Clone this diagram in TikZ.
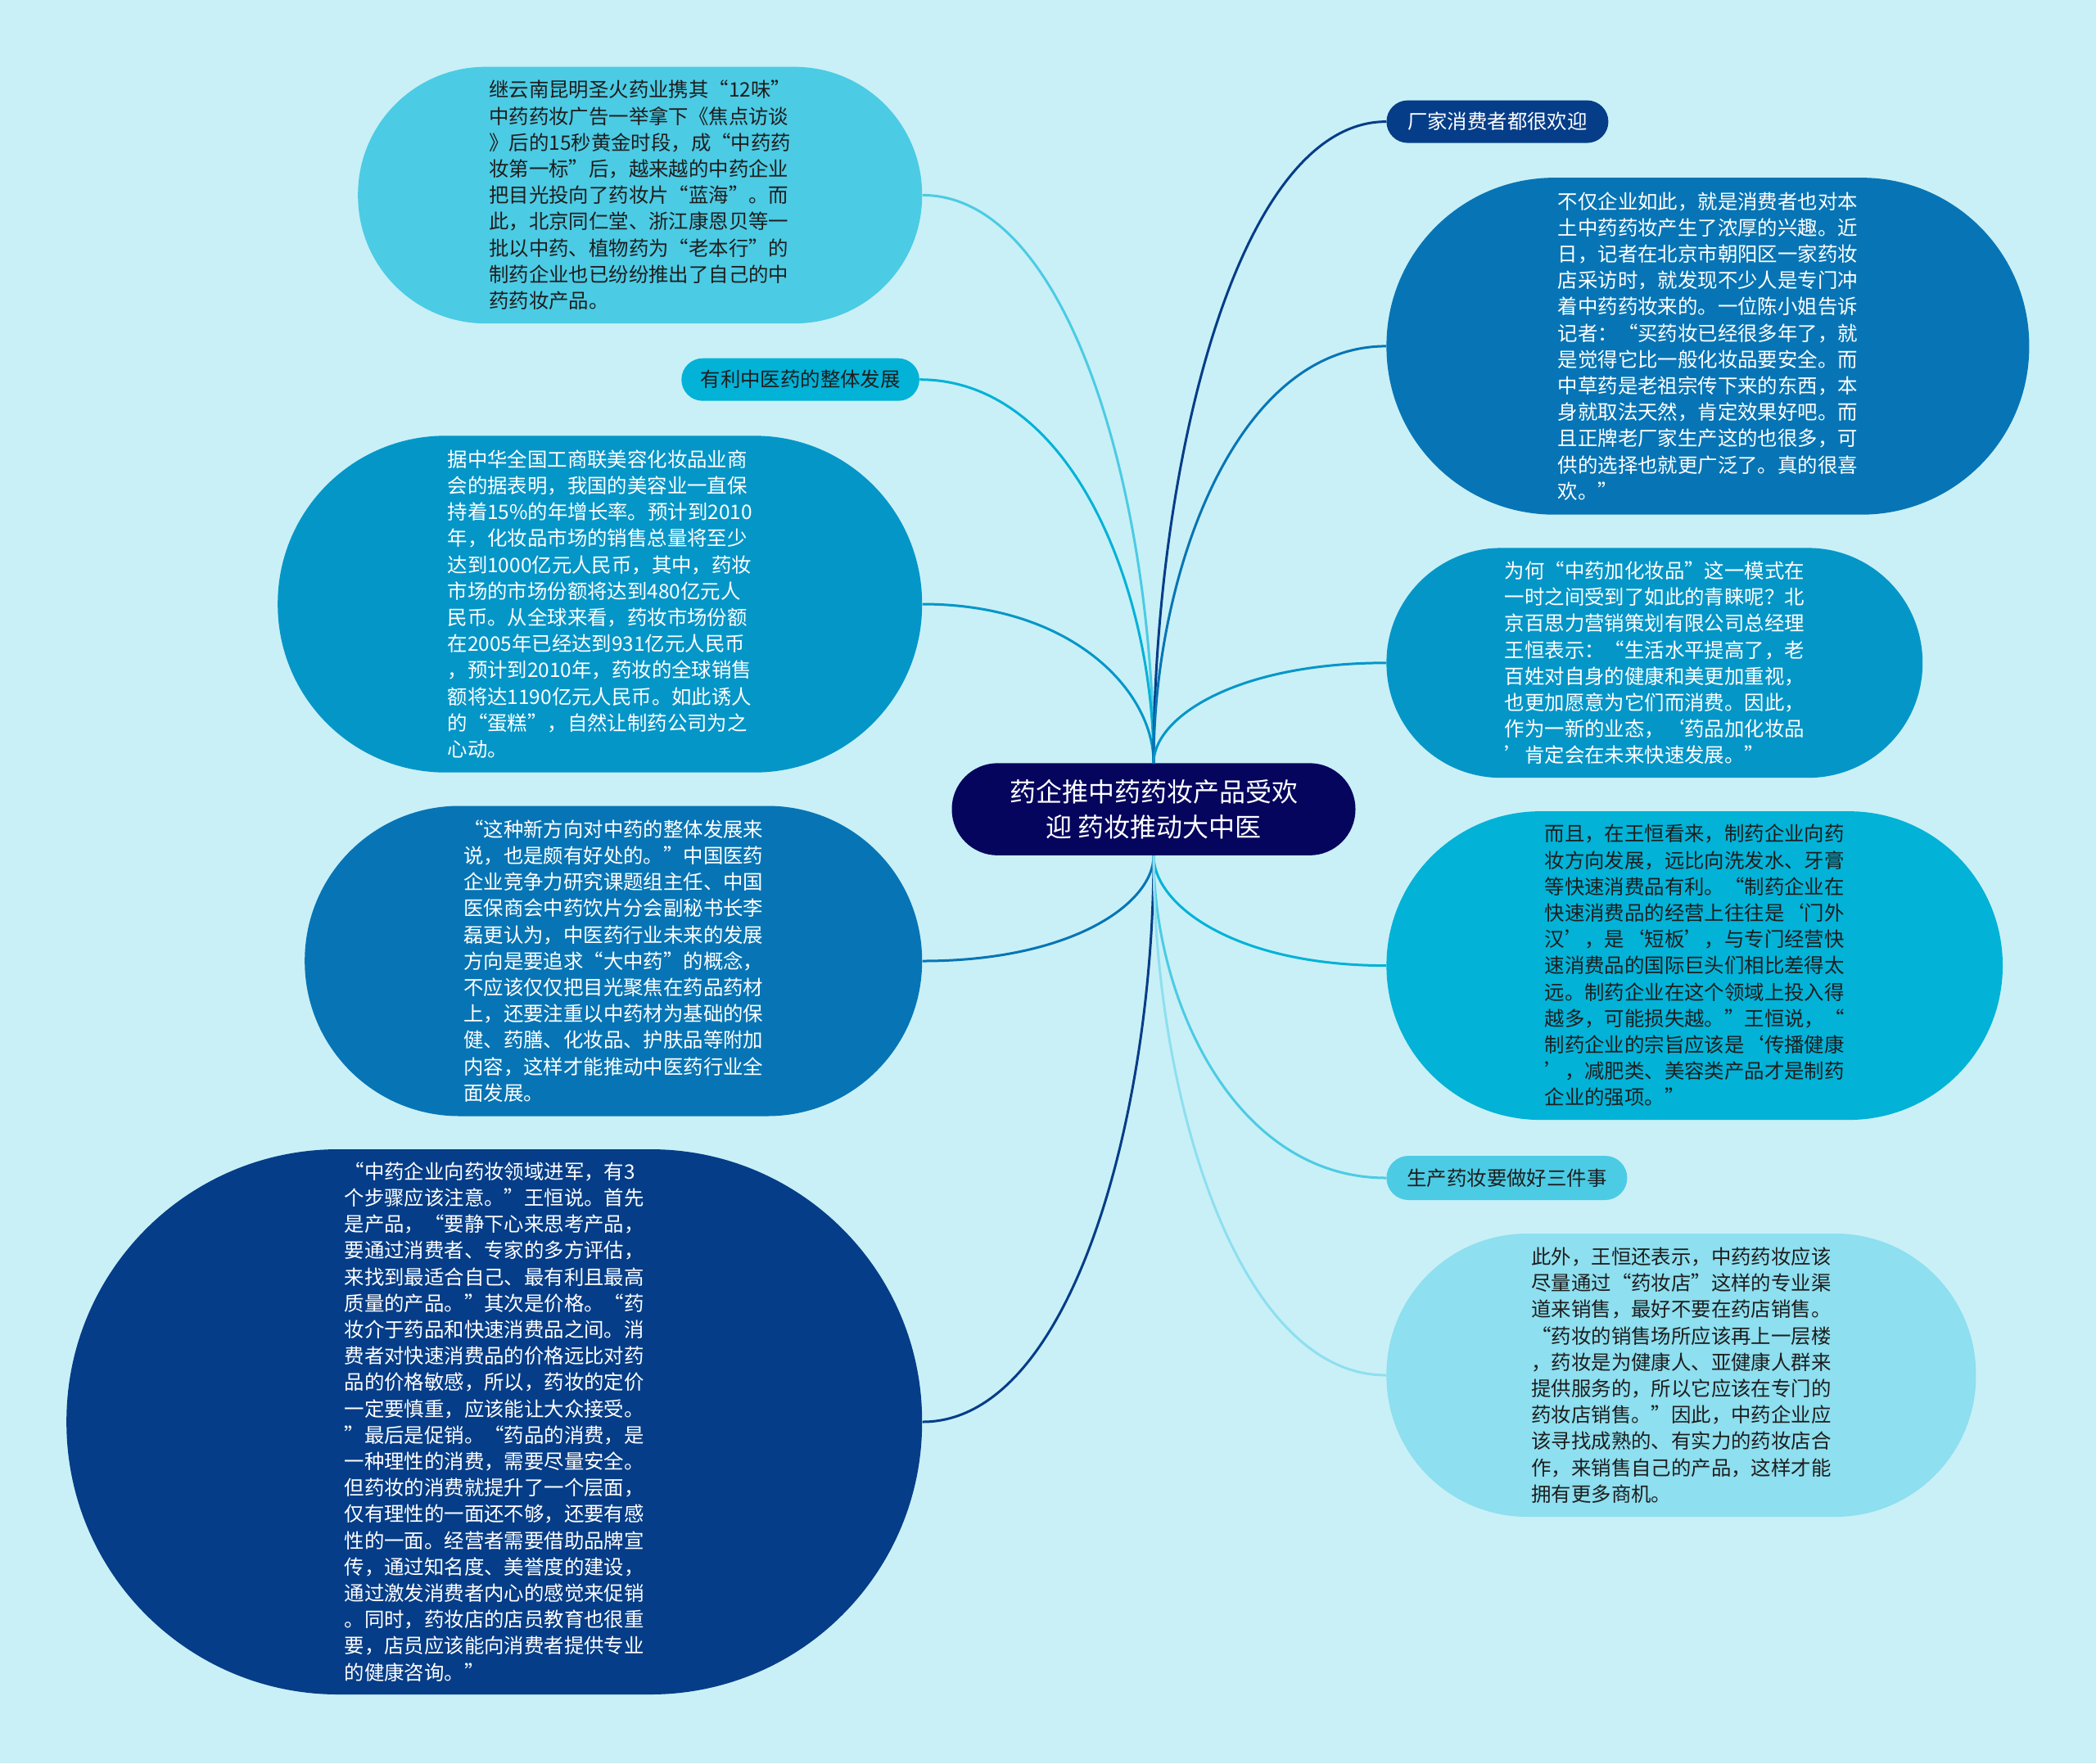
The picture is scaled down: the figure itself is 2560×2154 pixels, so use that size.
\documentclass[tikz,border=0pt]{standalone}
\usepackage{fontspec}
\newfontfamily\cjk{Noto Sans CJK SC}
\usetikzlibrary{backgrounds,calc}
\definecolor{bgc}{HTML}{C9F0F7}
\definecolor{cnav}{HTML}{05055E}
\definecolor{cA}{HTML}{053D88}
\definecolor{cB}{HTML}{0775B5}
\definecolor{cC}{HTML}{0596C8}
\definecolor{cD}{HTML}{02B2D7}
\definecolor{cE}{HTML}{4CCBE4}
\definecolor{cF}{HTML}{8EDFEF}
\definecolor{dtext}{HTML}{1E1E1E}
\tikzset{
  bub/.style={rectangle, align=left, inner sep=0pt, font=\cjk\fontsize{12.2pt}{16.1pt}\selectfont},
  lab/.style={rectangle, align=center, inner sep=0pt, font=\cjk\fontsize{12.2pt}{15pt}\selectfont},
  edge/.style={line width=1.5pt},
  lside/.style={anchor=east},
  rside/.style={anchor=west},
}
\newcommand\mmlink[3]{\draw[edge,#3] (#1) .. controls ($(#1)!0.45!(#1|-#2)$) and ($(#2)!0.65!(#1|-#2)$) .. (#2);}
\begin{document}
\begin{tikzpicture}[x=0.5pt,y=-0.5pt]
\useasboundingbox (0,0) rectangle (2560,2154);

% center
\node[lab, fill=cnav, text=white, minimum width=246.5pt, minimum height=56.3pt, rounded corners=28pt,
      font=\cjk\fontsize{16pt}{21.2pt}\selectfont] (ctr) at (1409,988.6)
  {药企推中药药妆产品受欢\\迎 药妆推动大中医};

% left side
\node[bub, lside, fill=cE, text=dtext, minimum width=344.5pt, minimum height=156.75pt, rounded corners=78pt] (tl1) at (1126.6,238.4)
  {继云南昆明圣火药业携其“12味”\\中药药妆广告一举拿下《焦点访谈\\》后的15秒黄金时段，成“中药药\\妆第一标”后，越来越的中药企业\\把目光投向了药妆片“蓝海”。而\\此，北京同仁堂、浙江康恩贝等一\\批以中药、植物药为“老本行”的\\制药企业也已纷纷推出了自己的中\\药药妆产品。};

\node[lab, lside, fill=cD, text=dtext, minimum width=145.3pt, minimum height=26pt, rounded corners=13pt] (ylz) at (1123.3,463.7)
  {有利中医药的整体发展};

\node[bub, lside, fill=cC, text=white, minimum width=393.5pt, minimum height=205.7pt, rounded corners=102.5pt] (l2) at (1126.6,738)
  {据中华全国工商联美容化妆品业商\\会的据表明，我国的美容业一直保\\持着15\%的年增长率。预计到2010\\年，化妆品市场的销售总量将至少\\达到1000亿元人民币，其中，药妆\\市场的市场份额将达到480亿元人\\民币。从全球来看，药妆市场份额\\在2005年已经达到931亿元人民币\\，预计到2010年，药妆的全球销售\\额将达1190亿元人民币。如此诱人\\的“蛋糕”，自然让制药公司为之\\心动。};

\node[bub, lside, fill=cB, text=white, minimum width=377pt, minimum height=189.5pt, rounded corners=94.5pt] (l3) at (1126.6,1174)
  {“这种新方向对中药的整体发展来\\说，也是颇有好处的。”中国医药\\企业竞争力研究课题组主任、中国\\医保商会中药饮片分会副秘书长李\\磊更认为，中医药行业未来的发展\\方向是要追求“大中药”的概念，\\不应该仅仅把目光聚焦在药品药材\\上，还要注重以中药材为基础的保\\健、药膳、化妆品、护肤品等附加\\内容，这样才能推动中医药行业全\\面发展。};

\node[bub, lside, fill=cA, text=white, minimum width=522.5pt, minimum height=333pt, rounded corners=166pt] (l4) at (1126.6,1737)
  {“中药企业向药妆领域进军，有3\\个步骤应该注意。”王恒说。首先\\是产品，“要静下心来思考产品，\\要通过消费者、专家的多方评估，\\来找到最适合自己、最有利且最高\\质量的产品。”其次是价格。“药\\妆介于药品和快速消费品之间。消\\费者对快速消费品的价格远比对药\\品的价格敏感，所以，药妆的定价\\一定要慎重，应该能让大众接受。\\”最后是促销。“药品的消费，是\\一种理性的消费，需要尽量安全。\\但药妆的消费就提升了一个层面，\\仅有理性的一面还不够，还要有感\\性的一面。经营者需要借助品牌宣\\传，通过知名度、美誉度的建设，\\通过激发消费者内心的感觉来促销\\。同时，药妆店的店员教育也很重\\要，店员应该能向消费者提供专业\\的健康咨询。”};

% right side
\node[lab, rside, fill=cA, text=white, minimum width=135.5pt, minimum height=26pt, rounded corners=13pt] (cj) at (1693,148.6)
  {厂家消费者都很欢迎};

\node[bub, rside, fill=cB, text=white, minimum width=392.5pt, minimum height=205.8pt, rounded corners=102.5pt] (r1) at (1693,422.9)
  {不仅企业如此，就是消费者也对本\\土中药药妆产生了浓厚的兴趣。近\\日，记者在北京市朝阳区一家药妆\\店采访时，就发现不少人是专门冲\\着中药药妆来的。一位陈小姐告诉\\记者：“买药妆已经很多年了，就\\是觉得它比一般化妆品要安全。而\\中草药是老祖宗传下来的东西，本\\身就取法天然，肯定效果好吧。而\\且正牌老厂家生产这的也很多，可\\供的选择也就更广泛了。真的很喜\\欢。”};

\node[bub, rside, fill=cC, text=white, minimum width=327.4pt, minimum height=140.4pt, rounded corners=70pt] (r2) at (1693,809.8)
  {为何“中药加化妆品”这一模式在\\一时之间受到了如此的青睐呢？北\\京百思力营销策划有限公司总经理\\王恒表示：“生活水平提高了，老\\百姓对自身的健康和美更加重视，\\也更加愿意为它们而消费。因此，\\作为一新的业态，‘药品加化妆品\\’肯定会在未来快速发展。”};

\node[bub, rside, fill=cD, text=dtext, minimum width=376.3pt, minimum height=188.5pt, rounded corners=94pt] (r3) at (1693,1179.6)
  {而且，在王恒看来，制药企业向药\\妆方向发展，远比向洗发水、牙膏\\等快速消费品有利。“制药企业在\\快速消费品的经营上往往是‘门外\\汉’，是‘短板’，与专门经营快\\速消费品的国际巨头们相比差得太\\远。制药企业在这个领域上投入得\\越多，可能损失越。”王恒说，“\\制药企业的宗旨应该是‘传播健康\\’，减肥类、美容类产品才是制药\\企业的强项。”};

\node[lab, rside, fill=cE, text=dtext, minimum width=147pt, minimum height=27pt, rounded corners=13.5pt] (sc) at (1693,1439)
  {生产药妆要做好三件事};

\node[bub, rside, fill=cF, text=dtext, minimum width=360pt, minimum height=173pt, rounded corners=86pt] (r4) at (1693,1680)
  {此外，王恒还表示，中药药妆应该\\尽量通过“药妆店”这样的专业渠\\道来销售，最好不要在药店销售。\\“药妆的销售场所应该再上一层楼\\，药妆是为健康人、亚健康人群来\\提供服务的，所以它应该在专门的\\药妆店销售。”因此，中药企业应\\该寻找成熟的、有实力的药妆店合\\作，来销售自己的产品，这样才能\\拥有更多商机。};

\begin{scope}[on background layer]
  \fill[bgc] (0,0) rectangle (2560,2154);
  \mmlink{ctr.north}{tl1.east}{cE}
  \mmlink{ctr.north}{ylz.east}{cD}
  \mmlink{ctr.north}{l2.east}{cC}
  \mmlink{ctr.south}{l3.east}{cB}
  \mmlink{ctr.south}{l4.east}{cA}
  \mmlink{ctr.north}{cj.west}{cA}
  \mmlink{ctr.north}{r1.west}{cB}
  \mmlink{ctr.north}{r2.west}{cC}
  \mmlink{ctr.south}{r3.west}{cD}
  \mmlink{ctr.south}{sc.west}{cE}
  \mmlink{ctr.south}{r4.west}{cF}
\end{scope}
\end{tikzpicture}
\end{document}
